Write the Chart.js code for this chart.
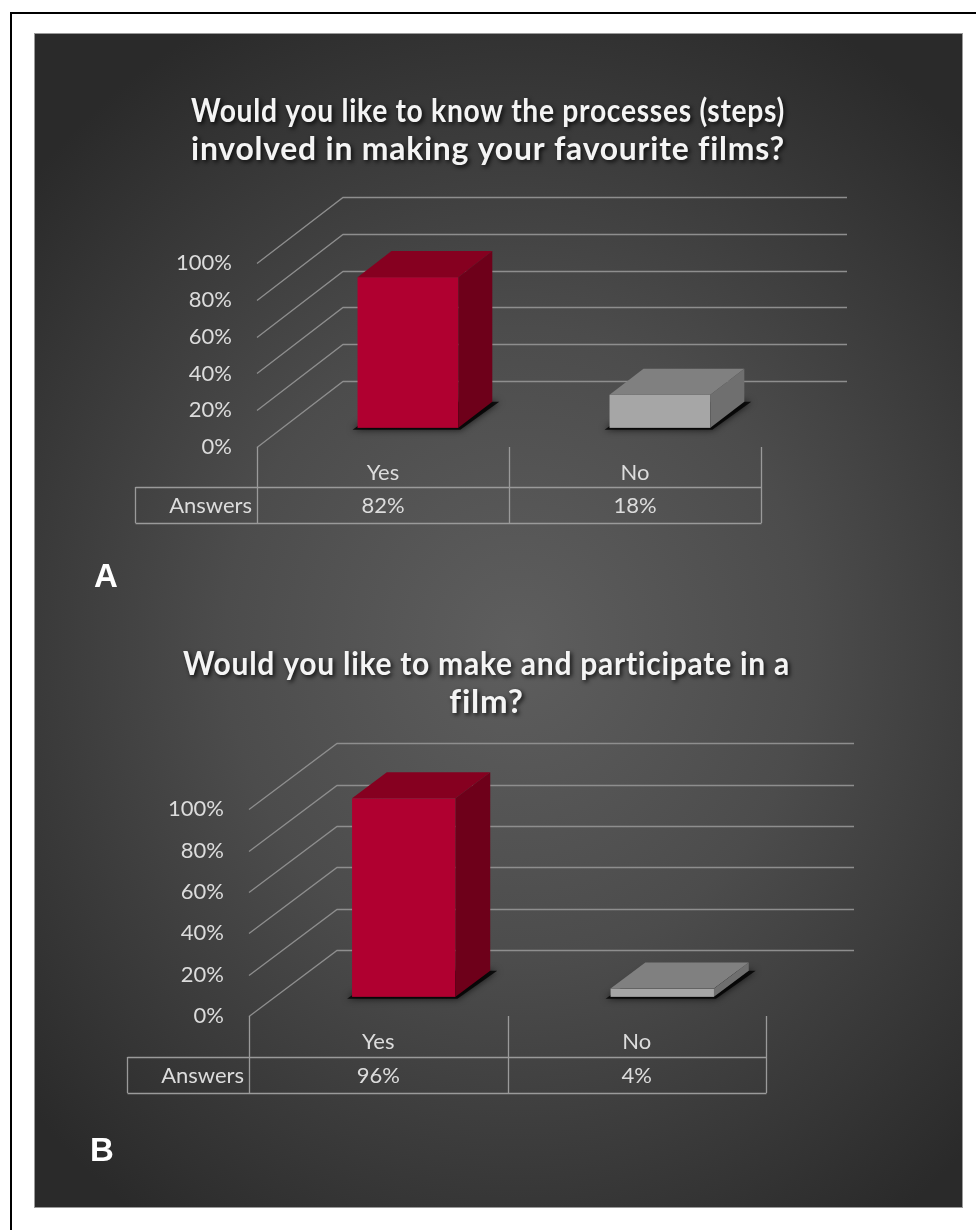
<!DOCTYPE html>
<html>
<head>
<meta charset="utf-8">
<script src="https://cdn.jsdelivr.net/npm/chart.js@4.4.1/dist/chart.umd.min.js"></script>
<style>
  html, body { margin: 0; padding: 0; background: #fff; }
  body { width: 976px; height: 1230px; position: relative; overflow: hidden; }
  .frame { position: absolute; left: 10px; top: 12px; width: 1000px; height: 1300px;
           border-left: 2px solid #000; border-top: 2px solid #000; }
  .panel { position: absolute; left: 34px; top: 33px; width: 927px; height: 1173px;
           border: 1px solid #9a9a9a;
           background: radial-gradient(ellipse 70% 60% at 52% 52%, #5e5e5e 0%, #4c4c4c 45%, #2a2a2a 100%); }
  canvas { position: absolute; left: 34px; }
  #chartA { top: 33px; }
  #chartB { top: 600px; }
  .tag { position: absolute; font: bold 33px "Liberation Sans", Arial, sans-serif;
         line-height: 1; color: #fff; }
</style>
</head>
<body>
<div class="frame"></div>
<div class="panel"></div>
<canvas id="chartA" width="929" height="560"></canvas>
<canvas id="chartB" width="929" height="608"></canvas>
<div class="tag" style="left:94px; top:559px;">A</div>
<div class="tag" style="left:90px; top:1133px;">B</div>
<script>
// data
const categories = ["Yes", "No"];
const answersA = [82, 18];
const answersB = [96, 4];
const rowLabel = "Answers";
const titleA = ["Would you like to know the processes (steps)", "involved in making your favourite films?"];
const titleB = ["Would you like to make and participate in a", "film?"];

const frontColors = ["#b00030", "#a6a6a6"];
const topColors = ["#860020", "#808080"];
const sideColors = ["#6e001a", "#6f6f6f"];

const FONT = "Lato, 'Open Sans', sans-serif";
const TEXT = "#dcdcdc";

function poly(ctx, pts) {
  ctx.beginPath();
  ctx.moveTo(pts[0][0], pts[0][1]);
  for (let i = 1; i < pts.length; i++) ctx.lineTo(pts[i][0], pts[i][1]);
  ctx.closePath();
}

// fake 3d: back wall + side wall lines, boxes, data table
const box3d = {
  id: "box3d",
  beforeDatasetsDraw(chart, args, o) {
    const { ctx, chartArea: a } = chart;
    const y = chart.scales.y;
    ctx.save();
    ctx.strokeStyle = o.gridColor;
    ctx.lineWidth = 1.3;
    y.ticks.forEach((t) => {
      const py = Math.round(y.getPixelForValue(t.value)) + 0.5;
      ctx.beginPath();
      ctx.moveTo(a.left, py);
      ctx.lineTo(a.left + o.dx, py + o.dy);
      ctx.lineTo(a.right + o.dx, py + o.dy);
      ctx.stroke();
    });
    ctx.restore();
  },
  beforeDatasetDraw() {
    return false;
  },
  afterDatasetsDraw(chart, args, o) {
    const ctx = chart.ctx;
    const ds = chart.data.datasets[0];
    chart.getDatasetMeta(0).data.forEach((bar, i) => {
      const p = bar.getProps(["x", "y", "base", "width"], true);
      const fx = o.front * o.dx, fy = o.front * o.dy;
      const ddx = (o.back - o.front) * o.dx, ddy = (o.back - o.front) * o.dy;
      const l = p.x - p.width / 2 + fx, r = p.x + p.width / 2 + fx;
      const t = p.y + fy, b = p.base + fy;

      ctx.save();
      ctx.fillStyle = "rgba(0,0,0,0.8)";
      ctx.shadowColor = "rgba(0,0,0,0.9)";
      ctx.shadowBlur = 7;
      poly(ctx, [[l - 5, b + 2], [r + 2, b + 2], [r + ddx + 7, b + ddy], [l + ddx, b + ddy]]);
      ctx.fill();
      ctx.restore();

      ctx.fillStyle = ds.backgroundColor[i];
      ctx.fillRect(l, t, r - l, b - t);
      ctx.fillStyle = o.topColors[i];
      poly(ctx, [[l, t], [r, t], [r + ddx, t + ddy], [l + ddx, t + ddy]]);
      ctx.fill();
      ctx.fillStyle = o.sideColors[i];
      poly(ctx, [[r, t], [r + ddx, t + ddy], [r + ddx, b + ddy], [r, b]]);
      ctx.fill();
    });
  },
  afterDraw(chart, args, o) {
    const { ctx, chartArea: a } = chart;
    const x = chart.scales.x;
    const values = chart.data.datasets[0].data;
    const top = a.bottom + o.tableGap, bot = top + o.rowHeight;
    const edges = [x.left];
    for (let i = 0; i < values.length - 1; i++) {
      edges.push((x.getPixelForValue(i) + x.getPixelForValue(i + 1)) / 2);
    }
    edges.push(x.right);

    ctx.save();
    ctx.strokeStyle = o.tableColor;
    ctx.lineWidth = 1.3;
    ctx.beginPath();
    edges.forEach((ex) => {
      const px = Math.round(ex) + 0.5;
      ctx.moveTo(px, a.bottom);
      ctx.lineTo(px, bot);
    });
    const lx = Math.round(a.left - o.labelCell) + 0.5;
    ctx.moveTo(lx, Math.round(top) + 0.5);
    ctx.lineTo(Math.round(x.right) + 0.5, Math.round(top) + 0.5);
    ctx.moveTo(lx, Math.round(bot) + 0.5);
    ctx.lineTo(Math.round(x.right) + 0.5, Math.round(bot) + 0.5);
    ctx.moveTo(lx, top);
    ctx.lineTo(lx, bot);
    ctx.stroke();

    ctx.fillStyle = TEXT;
    ctx.font = "22px " + FONT;
    ctx.textBaseline = "middle";
    const cy = (top + bot) / 2 + 1;
    ctx.textAlign = "right";
    ctx.fillText(rowLabel, a.left - 5, cy);
    ctx.textAlign = "center";
    values.forEach((v, i) => ctx.fillText(v + "%", x.getPixelForValue(i), cy));
    ctx.restore();
  },
};

// shadowed, slightly spaced title, nudged sideways
const titleStyle = {
  id: "titleStyle",
  afterLayout(chart, args, o) {
    const tb = chart.titleBlock;
    if (!tb) return;
    tb.left += o.shift;
    tb.right += o.shift;
    if (tb._styled) return;
    const draw = tb.draw.bind(tb);
    tb.draw = function (area) {
      const ctx = chart.ctx;
      ctx.save();
      ctx.letterSpacing = "0.8px";
      ctx.shadowColor = "rgba(0,0,0,0.8)";
      ctx.shadowBlur = 4;
      ctx.shadowOffsetX = 2;
      ctx.shadowOffsetY = 2;
      draw(area);
      ctx.restore();
    };
    tb._styled = true;
  },
};

function makeChart(id, values, title, s) {
  return new Chart(document.getElementById(id), {
    type: "bar",
    data: {
      labels: categories,
      datasets: [
        {
          label: rowLabel,
          data: values,
          backgroundColor: frontColors,
          categoryPercentage: 1,
          barPercentage: 0.4,
        },
      ],
    },
    options: {
      responsive: false,
      animation: false,
      layout: { padding: s.padding },
      scales: {
        x: {
          grid: { display: false, drawTicks: false },
          border: { display: false },
          ticks: { color: TEXT, font: { family: FONT, size: 22 }, padding: 13 },
          afterFit: (sc) => { sc.height = 110; },
        },
        y: {
          min: 0,
          max: 100,
          grid: { display: false, drawTicks: false },
          border: { display: false },
          ticks: {
            stepSize: 20,
            color: TEXT,
            font: { family: FONT, size: 22 },
            padding: 25,
            callback: (v) => v + "%",
          },
          afterFit: (sc) => { sc.width = 90; },
        },
      },
      plugins: {
        legend: { display: false },
        tooltip: { enabled: false },
        title: {
          display: true,
          text: title,
          color: "#f4f4f4",
          font: { family: FONT, size: 33, weight: "bold", lineHeight: 1.14 },
          padding: s.titlePadding,
        },
        titleStyle: { shift: s.titleShift },
        box3d: {
          dx: s.dx,
          dy: -66,
          front: 0.29,
          back: 0.685,
          gridColor: "#8e8e8e",
          tableColor: "#9a9a9a",
          topColors: topColors,
          sideColors: sideColors,
          tableGap: s.tableGap,
          rowHeight: 36,
          labelCell: 122,
        },
      },
    },
    plugins: [box3d, titleStyle],
  });
}

makeChart("chartA", answersA, titleA, {
  padding: { left: 133, right: 202, top: 0, bottom: 36 },
  titlePadding: { top: 60, bottom: 95 },
  titleShift: 24,
  dx: 86,
  tableGap: 40,
});

makeChart("chartB", answersB, titleB, {
  padding: { left: 125, right: 197, top: 0, bottom: 82 },
  titlePadding: { top: 46, bottom: 88 },
  titleShift: 24,
  dx: 88,
  tableGap: 41,
});
</script>
</body>
</html>
